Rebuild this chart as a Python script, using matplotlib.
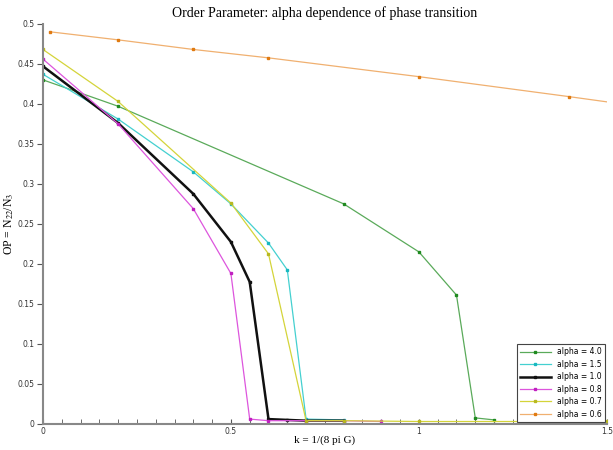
import matplotlib
matplotlib.use("Agg")
import matplotlib.pyplot as plt
import numpy as np

plt.rcParams["mathtext.fontset"] = "stix"

# order parameter vs k for several alpha values
k_a40 = [0, 0.2, 0.8, 1.0, 1.1, 1.15, 1.2]
op_a40 = [0.43, 0.397, 0.275, 0.215, 0.161, 0.0075, 0.005]

k_a15 = [0, 0.2, 0.4, 0.5, 0.6, 0.65, 0.7, 0.8]
op_a15 = [0.437, 0.381, 0.315, 0.275, 0.226, 0.1925, 0.006, 0.005]

k_a10 = [0, 0.2, 0.4, 0.5, 0.55, 0.6, 0.65, 0.7, 0.8]
op_a10 = [0.447, 0.376, 0.2875, 0.2275, 0.1775, 0.006, 0.005, 0.004, 0.004]

k_a08 = [0, 0.2, 0.4, 0.5, 0.55, 0.6, 0.7, 0.8, 0.9]
op_a08 = [0.456, 0.375, 0.269, 0.188, 0.006, 0.004, 0.004, 0.004, 0.003]

k_a07 = [0, 0.2, 0.5, 0.6, 0.7, 0.8, 1.0, 1.5]
op_a07 = [0.468, 0.403, 0.276, 0.2125, 0.004, 0.004, 0.003, 0.003]

k_a06 = [0.02, 0.2, 0.4, 0.6, 1.0, 1.4, 1.6]
op_a06 = [0.49, 0.48, 0.468, 0.4575, 0.434, 0.409, 0.396]

series = [
    ("alpha = 4.0", k_a40, op_a40, "#5aaa5a", "#1f8a1f", 0.9),
    ("alpha = 1.5", k_a15, op_a15, "#44d0d0", "#18b8c0", 0.9),
    ("alpha = 1.0", k_a10, op_a10, "#111111", "#111111", 1.8),
    ("alpha = 0.8", k_a08, op_a08, "#dd55dd", "#c020c0", 0.9),
    ("alpha = 0.7", k_a07, op_a07, "#d4d43a", "#b8b820", 0.9),
    ("alpha = 0.6", k_a06, op_a06, "#f0b070", "#e07a10", 0.9),
]

fig = plt.figure(figsize=(6.13, 4.5), dpi=100)
ax = fig.add_axes([0.070, 0.058, 0.920, 0.889])

for label, k, op, col, mcol, lw in series:
    ax.plot(k, op, color=col, lw=lw, marker="s", ms=2, mfc=mcol, mec=mcol,
            label=label)

ax.set_xlim(0, 1.5)
ax.set_ylim(0, 0.5)
ax.set_xticks(np.arange(0, 1.51, 0.5))
ax.set_xticklabels(["0", "0.5", "1", "1.5"])
ax.set_xticks(np.arange(0, 1.51, 0.05), minor=True)
ax.set_yticks(np.arange(0, 0.51, 0.05))
ax.set_yticklabels(["0", "0.05", "0.1", "0.15", "0.2", "0.25", "0.3",
                    "0.35", "0.4", "0.45", "0.5"])

for s in ["top", "right"]:
    ax.spines[s].set_visible(False)
for s in ["left", "bottom"]:
    ax.spines[s].set_color("#888888")
    ax.spines[s].set_linewidth(1.5)
ax.tick_params(axis="x", which="both", direction="in", length=3.5, color="#555555",
               labelsize=5.5, labelcolor="#333333", pad=2)
ax.tick_params(axis="y", direction="out", length=4, color="#555555",
               labelsize=5.5, labelcolor="#333333", pad=2)

ax.set_title("Order Parameter: alpha dependence of phase transition",
             family="Liberation Serif", fontsize=10, pad=5)
ax.set_xlabel("k = 1/(8 pi G)", family="Liberation Serif", fontsize=8, labelpad=0)
ax.set_ylabel(r"OP = N$_{22}$/N$_{3}$", family="Liberation Serif", fontsize=8.5)
ax.yaxis.set_label_coords(-0.047, 0.5)

leg = ax.legend(loc="lower right", fontsize=5.5, fancybox=False, framealpha=1,
                edgecolor="#444444", handlelength=4, borderaxespad=0.3,
                labelspacing=0.45, numpoints=1)
leg.get_frame().set_linewidth(0.8)

fig.savefig("out.png", dpi=100)
